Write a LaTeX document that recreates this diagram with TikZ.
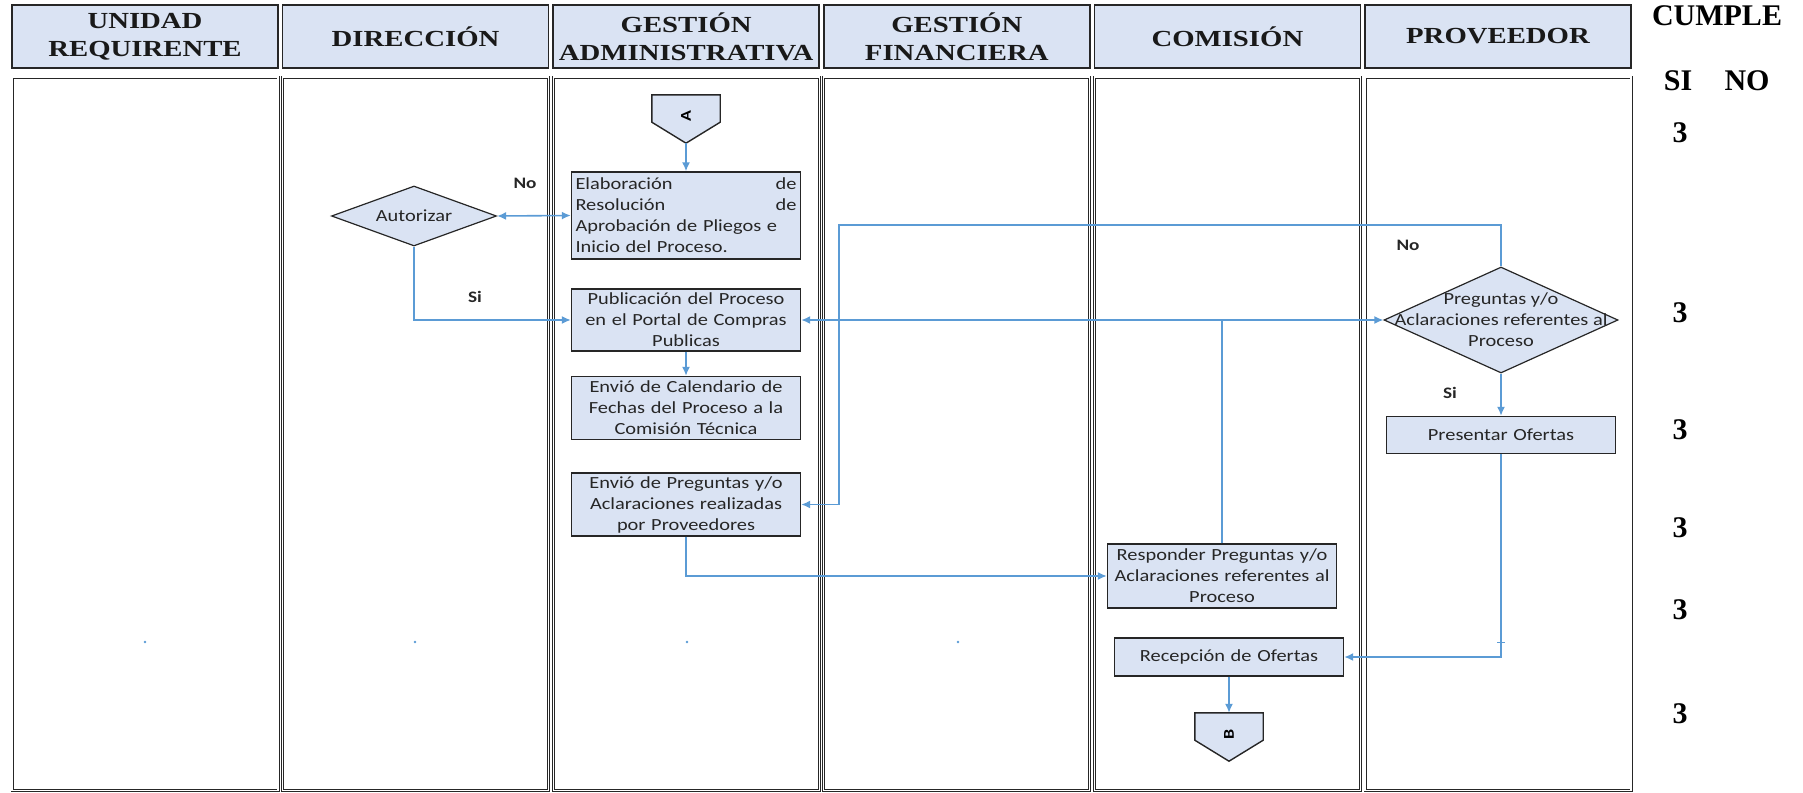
\documentclass[tikz,border=0pt]{standalone}
\usepackage{fontspec}
\setmainfont{Liberation Serif}
\newfontfamily\boxfont[FakeStretch=1.2]{Carlito}
\newfontfamily\headfont[FakeStretch=1.25]{Liberation Serif}
\usetikzlibrary{shapes.geometric,arrows.meta}
\definecolor{boxblue}{HTML}{DAE3F3}
\definecolor{flowblue}{HTML}{5B9BD5}
\definecolor{edgegray}{HTML}{262626}
\tikzset{
  lanehead/.style={draw=edgegray, line width=1.6pt, fill=boxblue, minimum width=266pt, minimum height=63pt,
    inner sep=0pt, align=center, text=black!90, font=\headfont\bfseries\fontsize{23}{28}\selectfont},
  lanebody/.style={draw=edgegray, line width=0.9pt, double=white, double distance=1.2pt},
  boxtext/.style={text=black!85, font=\boxfont\fontsize{17}{21}\selectfont},
  procbox/.style={boxtext, draw=edgegray, line width=1.4pt, fill=boxblue, inner xsep=4pt, inner ysep=0pt,
    text width=221pt, align=center},
  decision/.style={diamond, draw=edgegray, line width=1.2pt, fill=boxblue, inner sep=0pt},
  offpage/.style={minimum width=68pt, minimum height=48pt, inner sep=0pt,
    font=\boxfont\bfseries\fontsize{15}{15}\selectfont},
  pentagon/.style={draw=edgegray, line width=1.4pt, fill=boxblue, line join=miter},
  flow/.style={draw=flowblue, line width=1.6pt, -{Latex[length=9pt,width=8pt]}},
  flowtag/.style={text=black!85, font=\boxfont\bfseries\fontsize{16}{18}\selectfont},
  cumple/.style={font=\bfseries\fontsize{30}{32}\selectfont}
}
\begin{document}
\begin{tikzpicture}[x=1pt, y=-1pt]
    \useasboundingbox (0,0) rectangle (1803,792);

    \foreach \i/\name/\txt in {0/hUnidad/{UNIDAD\\REQUIRENTE}, 1/hDireccion/{DIRECCIÓN},
        2/hAdmin/{GESTIÓN\\ADMINISTRATIVA}, 3/hFinanciera/{GESTIÓN\\FINANCIERA},
        4/hComision/{COMISIÓN}, 5/hProveedor/{PROVEEDOR}} {
        \node[lanehead] (\name) at ({145+270.6*\i},36.5) {\txt};
        \draw[lanebody] ({12+270.6*\i},77) rectangle ({278+270.6*\i},790.5);
    }

    \node[cumple] (cumple) at (1717,16) {CUMPLE};
    \node[cumple] (si) at (1678,81) {SI};
    \node[cumple] (no) at (1747,81) {NO};
    \foreach \y [count=\k] in {133,313,430,528,610,714}
        \node[cumple] (ok\k) at (1680,\y) {3};

    \node[offpage] (conA) at (686,119) {};
    \node[offpage] (conB) at (1229,737) {};
    \foreach \con/\letter in {conA/A, conB/B} {
        \draw[pentagon] (\con.north west) -- (\con.north east) -- ([yshift=21pt]\con.south east)
            -- (\con.south) -- ([yshift=21pt]\con.south west) -- cycle;
        \node[offpage, rotate=90] at ([yshift=3pt]\con.center) {\letter};
    }

    \node[procbox, align=left, minimum height=87pt] (elab) at (686,215.5)
        {Elaboración\hfill de\\Resolución\hfill de\\\makebox[221pt][s]{Aprobación de Pliegos e}\\Inicio del Proceso.};
    \node[decision, minimum width=165pt, minimum height=60pt, label={[boxtext]center:Autorizar}] (autorizar) at (414,216) {};
    \node[procbox, minimum height=62pt] (pub) at (686,320) {Publicación del Proceso\\en el Portal de Compras\\Publicas};
    \node[procbox, minimum height=63pt] (cal) at (686,408) {Envió de Calendario de\\Fechas del Proceso a la\\Comisión Técnica};
    \node[procbox, minimum height=63pt] (envprg) at (686,504.5) {Envió de Preguntas y/o\\Aclaraciones realizadas\\por Proveedores};
    \node[procbox, minimum height=64pt] (resp) at (1222,576) {Responder Preguntas y/o\\Aclaraciones referentes al\\Proceso};
    \node[procbox, minimum height=38pt] (recep) at (1229,657) {Recepción de Ofertas};
    \node[decision, minimum width=234pt, minimum height=106pt,
        label={[boxtext, align=center]center:{Preguntas y/o\\Aclaraciones referentes al\\Proceso}}] (preg) at (1501,320) {};
    \node[procbox, minimum height=37pt] (present) at (1501,435) {Presentar Ofertas};

    \node[flowtag] (noAut) at (525,183) {No};
    \node[flowtag] (siAut) at (475,297) {Si};
    \node[flowtag] (noPreg) at (1408,245) {No};
    \node[flowtag] (siPreg) at (1450,393) {Si};
    \coordinate (loopTop) at (839,225);

    \draw[flow] (conA.south) -- (elab.north);
    \draw[flow, {Latex[length=9pt,width=8pt]}-{Latex[length=9pt,width=8pt]}] (autorizar.east) -- (elab.west);
    \draw[flow] (autorizar.south) |- (pub.west);
    \draw[flow] (pub) -- (cal);
    \draw[flow] (envprg.south) |- (resp.west);
    \draw[flow] (resp.north) |- (pub.east);
    \draw[flow] (resp.north) |- (preg.west);
    \draw[flow] (preg.north) |- (loopTop) |- (envprg.east);
    \draw[flow] (preg) -- (present);
    \draw[flow] (present.south) |- (recep.east);
    \draw[flow] (recep.south) -- (conB.north);

    \foreach \x in {145,415,687,958}
        \fill[flowblue] (\x,642) circle (1.3pt);
    \draw[flowblue, line width=0.8pt] (1497,642) -- (1505,642);
\end{tikzpicture}
\end{document}
